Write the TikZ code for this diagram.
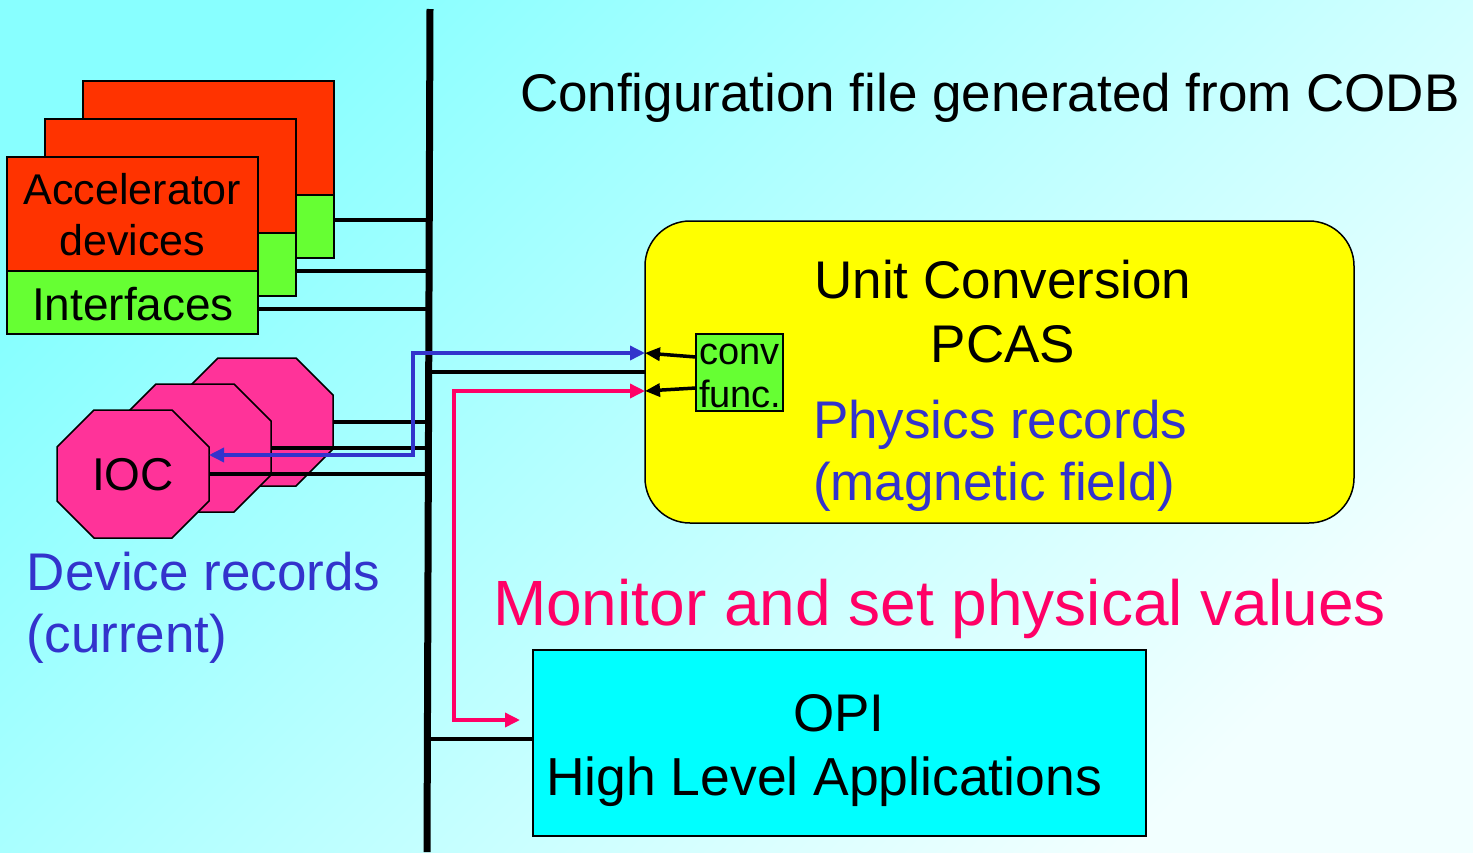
\documentclass[tikz,border=0pt]{standalone}
\usepackage{fontspec}
\setmainfont{Liberation Sans}
\usetikzlibrary{calc,arrows.meta}
\definecolor{bgdark}{HTML}{88FFFF}
\definecolor{bglight}{HTML}{F2FFFF}
\definecolor{devred}{HTML}{FF3300}
\definecolor{ifgreen}{HTML}{66FF33}
\definecolor{iocpink}{HTML}{FF3399}
\definecolor{ucyellow}{HTML}{FFFF00}
\definecolor{opicyan}{HTML}{00FFFF}
\definecolor{recblue}{HTML}{3333CC}
\definecolor{setpink}{HTML}{FF0066}

\begin{document}
\begin{tikzpicture}[x=1pt,y=-1pt,
        every node/.style={inner sep=0pt,outer sep=0pt},
        devbox/.style={draw=black,line width=1.5pt,fill=devred,minimum width=251,minimum height=114},
        ifbox/.style={draw=black,line width=1.5pt,fill=ifgreen,minimum width=251,minimum height=63},
        iocnode/.style={minimum width=152,minimum height=128},
        iocshape/.style={draw=black,line width=1.5pt,fill=iocpink},
        wire/.style={draw=black,line width=3.5pt},
        bigtxt/.style={font=\fontsize{53}{64}\selectfont},
        rectxt/.style={font=\fontsize{53}{62}\selectfont,text=recblue,align=left},
        tipa/.tip={Triangle[length=15pt,width=14pt]},
        recarrow/.style={draw=recblue,line width=3.5pt,tipa-tipa},
        setarrow/.style={draw=setpink,line width=3.5pt,tipa-tipa},
        convarrow/.style={draw=black,line width=3.5pt,-{Triangle[length=15pt,width=13pt]}}]
        \shade[top color=bgdark,bottom color=bglight,shading angle=45] (0,0) rectangle (1473,852);
        \useasboundingbox (0,0) rectangle (1473,852);
        \coordinate (bustop) at (430,9);
        \coordinate (busbot) at (427,852);

        \node[devbox] (dev3) at (208.5,138) {};
        \node[ifbox] (if3) at (208.5,226.5) {};
        \node[devbox] (dev2) at (170.5,176) {};
        \node[ifbox] (if2) at (170.5,264.5) {};
        \node[devbox] (dev1) at (132.5,214) {};
        \node[ifbox] (if1) at (132.5,302.5) {};
        \node[font=\fontsize{43}{51}\selectfont,align=center,anchor=base] (devtext) at (132.5,255) {Accelerator\\devices};
        \node[font=\fontsize{46}{55}\selectfont,anchor=base] (iftext) at (133,320) {Interfaces};

        \node[iocnode] (ioc3) at (257,422) {};
        \node[iocnode] (ioc2) at (195,448) {};
        \node[iocnode] (ioc1) at (133,474) {};
        \foreach \o in {ioc3,ioc2,ioc1}
            \draw[iocshape] ($(\o.north west)+(37,0)$) -- ($(\o.north east)+(-37,0)$) -- ($(\o.north east)+(0,37)$) -- ($(\o.south east)+(0,-37)$) -- ($(\o.south east)+(-37,0)$) -- ($(\o.south west)+(37,0)$) -- ($(\o.south west)+(0,-37)$) -- ($(\o.north west)+(0,37)$) -- cycle;
        \node[font=\fontsize{46}{55}\selectfont,anchor=base] (ioctext) at (133,490.7) {IOC};

        \node[draw=black,line width=1.5pt,fill=ucyellow,rounded corners=45,minimum width=709,minimum height=302] (ucbox) at (999.5,372) {};
        \node[draw=black,line width=1.5pt,fill=opicyan,minimum width=613,minimum height=186] (opi) at (839.5,743) {};
        \node[draw=black,line width=1.5pt,fill=ifgreen,minimum width=87,minimum height=77] (conv) at (739.5,372.5) {};

        \draw[wire] ($(if3.east)+(0,-6.5)$) -- ($(if3.east -| bustop)+(0,-6.5)$);
        \draw[wire] ($(if2.east)+(0,6.5)$) -- ($(if2.east -| bustop)+(0,6.5)$);
        \draw[wire] ($(if1.east)+(0,6.5)$) -- ($(if1.east -| bustop)+(0,6.5)$);
        \draw[wire] (ioc3.east) -- (ioc3.east -| bustop);
        \draw[wire] (ioc2.east) -- (ioc2.east -| bustop);
        \draw[wire] (ioc1.east) -- (ioc1.east -| bustop);
        \draw[wire] (ucbox.west) -- (ucbox.west -| bustop);
        \draw[wire] ($(opi.west)+(0,-4)$) -- ($(opi.west -| busbot)+(0,-4)$);
        \draw[draw=black,line width=7pt] (bustop) -- (busbot);

        \node[bigtxt,anchor=base west] (title) at (520,111) {Configuration file generated from CODB};
        \node[bigtxt,align=center,anchor=base] (uctext) at (1003,362) {Unit Conversion\\PCAS};
        \node[rectxt,anchor=base west] (phystext) at (813,500) {Physics records\\(magnetic field)};
        \node[rectxt,anchor=base west] (devrec) at (27,652) {Device records\\(current)};
        \node[font=\fontsize{64}{77}\selectfont,text=setpink,anchor=base west] (monitor) at (493,625) {Monitor and set physical values};
        \node[font=\fontsize{53}{62}\selectfont,anchor=base] (opitext) at (839,731) {OPI};
        \node[font=\fontsize{53.5}{62}\selectfont,anchor=base west] (hlatext) at (546,795) {High Level Applications};
        \node[font=\fontsize{38}{43}\selectfont,align=left,anchor=base west] (convtext) at (699,407) {conv\\func.};

        \draw[convarrow] ($(conv.west)+(0,-15.5)$) -- ($(ucbox.west)+(0,-19)$);
        \draw[convarrow] ($(conv.west)+(0,15.5)$) -- ($(ucbox.west)+(0,19)$);
        \draw[recarrow] ($(ioc1.east)+(0,-19)$) -| ($(ucbox.west)+(-232,-19)$) -- ($(ucbox.west)+(0,-19)$);
        \draw[setarrow] ($(ucbox.west)+(0,19)$) -| ($(opi.west)+(-79,-23)$) -- ($(opi.west)+(-13,-23)$);
    \end{tikzpicture}
\end{document}
